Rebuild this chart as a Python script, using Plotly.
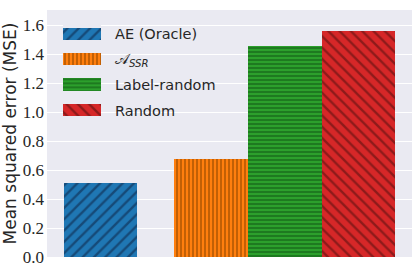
import plotly.graph_objects as go

methods = ["AE (Oracle)", "𝒜<sub><i>SSR</i></sub>", "Label-random", "Random"]
positions = [0.0, 1.5, 2.5, 3.5]
mse = [0.508, 0.678, 1.457, 1.560]
colors = ["#1f77b4", "#ff7f0e", "#2ca02c", "#d62728"]
hatch_colors = ["#154a78", "#a85200", "#17691a", "#8e1a1a"]
hatch_shapes = ["/", "|", "-", "\\"]
hatch_sizes = [8, 4, 4, 8]
hatch_solidity = [0.3, 0.35, 0.35, 0.3]
yticks = [0.0, 0.2, 0.4, 0.6, 0.8, 1.0, 1.2, 1.4, 1.6]


def hatched_marker(i):
    return dict(
        color=colors[i], line=dict(width=0),
        pattern=dict(shape=hatch_shapes[i], fgcolor=hatch_colors[i],
                     bgcolor=colors[i], size=hatch_sizes[i],
                     solidity=hatch_solidity[i], fillmode="replace", fgopacity=1),
    )


fig = go.Figure()
for i in range(len(methods)):
    fig.add_trace(go.Bar(
        x=[positions[i]], y=[mse[i]], width=1.0, marker=hatched_marker(i),
        showlegend=False, hoverinfo="skip",
    ))
    # legend patch drawn as a small patterned bar on an auxiliary axis
    fig.add_trace(go.Bar(
        y=[i], x=[1], orientation="h", width=0.49,
        xaxis="x2", yaxis="y2", marker=hatched_marker(i),
        showlegend=False, hoverinfo="skip",
    ))
    fig.add_annotation(x=0.181, y=i, xref="paper", yref="y2", text=methods[i],
                       showarrow=False, xanchor="left", yanchor="middle",
                       font=dict(family="DejaVu Sans", size=14.5, color="#262626"))

fig.update_layout(
    width=415, height=270,
    margin=dict(l=47, r=3, t=10, b=13),
    paper_bgcolor="white", plot_bgcolor="#EAEAF2",
    bargap=0, barmode="overlay",
    xaxis=dict(range=[-0.725, 4.225], showticklabels=False, showgrid=False,
               zeroline=False, ticks=""),
    yaxis=dict(range=[0, 1.705], tickvals=yticks,
               ticktext=[f"{v:.1f}" for v in yticks],
               showgrid=True, gridcolor="white", gridwidth=1, zeroline=False,
               tickfont=dict(family="Liberation Serif", size=17, color="#262626"),
               ticks="", ticklabelstandoff=2,
               title=dict(text="Mean squared error (MSE)", standoff=5,
                          font=dict(family="DejaVu Sans", size=17, color="#262626"))),
    xaxis2=dict(domain=[0.0438, 0.148], range=[0, 1], visible=False,
                anchor="y2", fixedrange=True),
    yaxis2=dict(domain=[0.5415, 0.954], range=[3.5, -0.5], visible=False,
                anchor="x2", fixedrange=True),
)

fig.write_html("out.html", config={"displayModeBar": False},
               post_script="document.body.style.margin='0';document.body.style.overflow='hidden';")
